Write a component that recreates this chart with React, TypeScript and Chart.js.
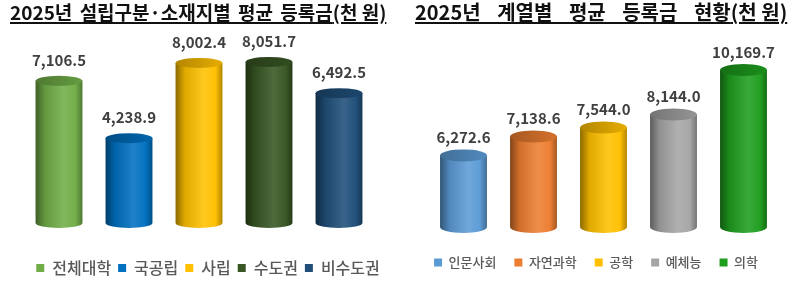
import React, { useEffect, useRef } from "react";
import { Chart, registerables } from "chart.js";

Chart.register(...registerables);

const leftTitle = "2025년 설립구분·소재지별 평균 등록금(천 원)";
const leftCategories = ["전체대학", "국공립", "사립", "수도권", "비수도권"];
const leftValues = [7106.5, 4238.9, 8002.4, 8051.7, 6492.5];
const leftColors = ["#70AD47", "#0070C0", "#FFC000", "#375623", "#1F4E79"];

const rightTitle = "2025년 계열별 평균 등록금 현황(천 원)";
const rightCategories = ["인문사회", "자연과학", "공학", "예체능", "의학"];
const rightValues = [6272.6, 7138.6, 7544.0, 8144.0, 10169.7];
const rightColors = ["#5B9BD5", "#ED7D31", "#FFC000", "#A5A5A5", "#1E9E1E"];

const FONT = "'Noto Sans CJK KR', 'Noto Sans', sans-serif";

function mix(hex: string, amt: number): string {
  const n = parseInt(hex.slice(1), 16);
  let r = (n >> 16) & 255;
  let g = (n >> 8) & 255;
  let b = n & 255;
  const t = amt < 0 ? 0 : 255;
  const p = Math.abs(amt);
  r = Math.round(r + (t - r) * p);
  g = Math.round(g + (t - g) * p);
  b = Math.round(b + (t - b) * p);
  return `rgb(${r},${g},${b})`;
}

const cylinderPlugin = {
  id: "cylinder",
  afterDatasetsDraw(chart: any, _args: any, opts: any) {
    const ctx = chart.ctx as CanvasRenderingContext2D;
    const meta = chart.getDatasetMeta(0);
    const values = chart.data.datasets[0].data as number[];
    const colors: string[] = opts.colors;
    ctx.save();
    meta.data.forEach((el: any, i: number) => {
      const { x, y, base, width } = el.getProps(["x", "y", "base", "width"], true);
      const c = colors[i];
      const rx = width / 2;
      const ry = opts.ry;
      const left = x - rx;
      const grad = ctx.createLinearGradient(left, 0, left + width, 0);
      grad.addColorStop(0, mix(c, -0.45));
      grad.addColorStop(0.2, mix(c, -0.12));
      grad.addColorStop(0.6, mix(c, 0.12));
      grad.addColorStop(0.85, mix(c, 0.02));
      grad.addColorStop(1, mix(c, -0.3));
      ctx.beginPath();
      ctx.moveTo(left, y);
      ctx.lineTo(left, base);
      ctx.ellipse(x, base, rx, ry, 0, Math.PI, 0, true);
      ctx.lineTo(left + width, y);
      ctx.closePath();
      ctx.fillStyle = grad;
      ctx.fill();

      const tg = ctx.createLinearGradient(left, 0, left + width, 0);
      tg.addColorStop(0, mix(c, -0.3));
      tg.addColorStop(1, mix(c, -0.1));
      ctx.beginPath();
      ctx.ellipse(x, y, rx, ry, 0, 0, Math.PI * 2);
      ctx.fillStyle = tg;
      ctx.fill();

      ctx.font = `bold ${opts.labelSize}px ${FONT}`;
      ctx.fillStyle = "#404040";
      ctx.textAlign = "center";
      ctx.textBaseline = "middle";
      const txt = values[i].toLocaleString("en-US", { minimumFractionDigits: 1, maximumFractionDigits: 1 });
      ctx.fillText(txt, x, y - ry - opts.labelGap);
    });
    ctx.restore();
  },
};

type PanelProps = {
  categories: string[];
  values: number[];
  colors: string[];
  height: number;
  top: number;
  padLeft: number;
  padRight: number;
  leftGap: number;
  rightGap: number;
  yMin: number;
  yMax: number;
  base: number;
  legendFont: number;
  legendPad: number;
  ry: number;
  labelGap: number;
};

function Panel(p: PanelProps) {
  const ref = useRef<HTMLCanvasElement | null>(null);
  useEffect(() => {
    if (!ref.current) return;
    const hidden = {
      display: true,
      grid: { display: false },
      border: { display: false },
      ticks: { display: false },
    };
    const chart = new Chart(ref.current, {
      type: "bar",
      data: {
        labels: p.categories,
        datasets: [
          {
            data: p.values,
            backgroundColor: "rgba(0,0,0,0)",
            borderWidth: 0,
            base: p.base,
            categoryPercentage: 1,
            barPercentage: 0.67,
            yAxisID: "y",
          } as any,
        ],
      },
      options: {
        responsive: false,
        animation: false,
        layout: { padding: { top: p.top, left: p.padLeft, right: p.padRight, bottom: 0 } },
        scales: {
          x: { display: false },
          y: {
            ...hidden,
            position: "left",
            min: p.yMin,
            max: p.yMax,
            afterFit: (s: any) => {
              s.width = p.leftGap;
            },
          },
          y2: {
            ...hidden,
            position: "right",
            afterFit: (s: any) => {
              s.width = p.rightGap;
            },
          },
        } as any,
        plugins: {
          tooltip: { enabled: false },
          legend: {
            display: true,
            position: "bottom",
            labels: {
              boxWidth: 8,
              boxHeight: 8,
              padding: p.legendPad,
              color: "#595959",
              font: { size: p.legendFont, family: FONT, weight: "500" },
              generateLabels: () =>
                p.categories.map((t, i) => ({
                  text: t,
                  fillStyle: p.colors[i],
                  strokeStyle: p.colors[i],
                  lineWidth: 0,
                  hidden: false,
                  index: i,
                  datasetIndex: 0,
                  fontColor: "#595959",
                })),
            },
          },
          cylinder: { colors: p.colors, ry: p.ry, labelSize: 15, labelGap: p.labelGap },
        } as any,
      },
      plugins: [cylinderPlugin],
    });
    return () => chart.destroy();
  }, []);
  return <canvas ref={ref} width={400} height={p.height} style={{ display: "block" }} />;
}

const titleStyle: React.CSSProperties = {
  position: "absolute",
  top: 0,
  fontFamily: FONT,
  fontWeight: 700,
  lineHeight: "24px",
  color: "#111",
  textDecoration: "underline",
  textDecorationThickness: "1.5px",
  textUnderlineOffset: "2px",
  whiteSpace: "pre",
};

function Title({ text, left, spacing, size }: { text: string; left: number; spacing: number; size: number }) {
  const k = text.indexOf("(");
  return (
    <div style={{ ...titleStyle, left, fontSize: size, wordSpacing: spacing }}>
      {text.slice(0, k)}
      <span style={{ wordSpacing: 0 }}>{text.slice(k)}</span>
    </div>
  );
}

export default function App() {
  return (
    <div
      style={{
        position: "fixed",
        left: 0,
        top: 0,
        width: 800,
        height: 282,
        overflow: "hidden",
        background: "#fff",
      }}
    >
      <div style={{ position: "absolute", left: 0, top: 0, width: 400, height: 282, overflow: "hidden" }}>
        <Panel
          categories={leftCategories}
          values={leftValues}
          colors={leftColors}
          height={286}
          top={23}
          padLeft={16}
          padRight={0}
          leftGap={8}
          rightGap={26}
          yMin={-1500}
          yMax={10000}
          base={0}
          legendFont={16}
          legendPad={7}
          ry={5}
          labelGap={16}
        />
        <Title text={leftTitle} left={10} spacing={3} size={19} />
      </div>
      <div style={{ position: "absolute", left: 400, top: 0, width: 400, height: 282, overflow: "hidden" }}>
        <Panel
          categories={rightCategories}
          values={rightValues}
          colors={rightColors}
          height={279}
          top={30}
          padLeft={0}
          padRight={8}
          leftGap={28.5}
          rightGap={13.5}
          yMin={2500}
          yMax={12000}
          base={3000}
          legendFont={13}
          legendPad={18}
          ry={6}
          labelGap={12}
        />
        <Title text={rightTitle} left={15} spacing={12} size={20} />
      </div>
    </div>
  );
}
